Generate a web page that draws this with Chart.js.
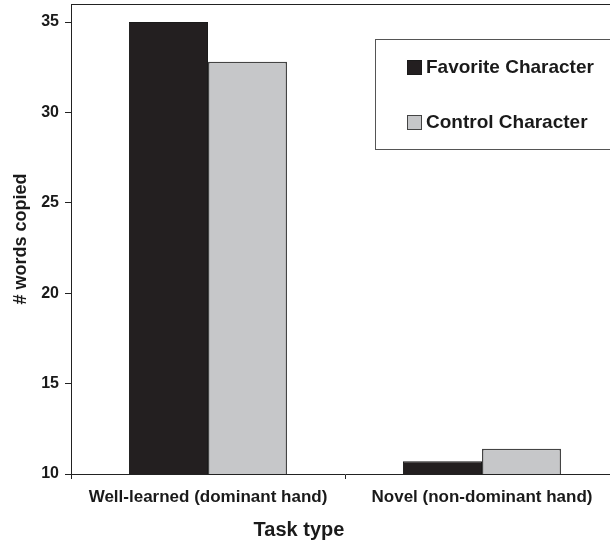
<!DOCTYPE html>
<html>
<head>
<meta charset="utf-8">
<script src="https://cdn.jsdelivr.net/npm/chart.js@4.4.1/dist/chart.umd.min.js"></script>
<style>
html,body{margin:0;padding:0;background:#fff;overflow:hidden;width:610px;height:545px;}
#wrap{width:630px;height:545px;position:relative;}
</style>
</head>
<body>
<div id="wrap"><canvas id="c" width="630" height="545"></canvas></div>
<script>
const categories = ["Well-learned (dominant hand)", "Novel (non-dominant hand)"];
const favoriteValues = [35.0, 10.7];
const controlValues = [32.8, 11.4];
const seriesNames = ["Favorite Character", "Control Character"];
const yTicks = [10, 15, 20, 25, 30, 35];
const yMin = 10, yMax = 36;
const xTitle = "Task type";
const yTitle = "# words copied";

const FONT = "'Liberation Sans', Arial, Helvetica, sans-serif";
const DARK = '#231f20';
const GREY = '#c6c7c9';

const framePlugin = {
  id: 'frame',
  afterDraw(chart) {
    const {ctx, chartArea} = chart;
    ctx.save();
    ctx.strokeStyle = '#222';
    ctx.lineWidth = 1;
    ctx.beginPath();
    ctx.moveTo(chartArea.left, chartArea.top + 0.5);
    ctx.lineTo(chartArea.right, chartArea.top + 0.5);
    ctx.stroke();
    // x title (centred on the figure, as in the original)
    ctx.font = 'bold 20px ' + FONT;
    ctx.fillStyle = '#1a1a1a';
    ctx.textAlign = 'center';
    ctx.textBaseline = 'middle';
    ctx.fillText(xTitle, 299, 530);
    // legend box
    const bx = 375.5, by = 39.5, bw = 260, bh = 110;
    ctx.strokeStyle = '#555';
    ctx.fillStyle = '#fff';
    ctx.fillRect(bx, by, bw, bh);
    ctx.strokeRect(bx, by, bw, bh);
    const rows = [67, 122];
    ctx.font = 'bold 19px ' + FONT;
    ctx.textBaseline = 'middle';
    ctx.textAlign = 'left';
    chart.data.datasets.forEach((ds, i) => {
      const y = rows[i];
      ctx.fillStyle = ds.backgroundColor;
      ctx.fillRect(407, y - 7, 15, 15);
      ctx.strokeStyle = ds.borderColor;
      ctx.strokeRect(407.5, y - 6.5, 14, 14);
      ctx.fillStyle = '#1a1a1a';
      ctx.fillText(ds.label, 426, y + 1);
    });
    ctx.restore();
  }
};

function zeroPad(s) { s.paddingTop = 0; s.paddingBottom = 0; s.paddingLeft = 0; s.paddingRight = 0; }

new Chart(document.getElementById('c'), {
  type: 'bar',
  data: {
    labels: categories,
    datasets: [
      { label: seriesNames[0], data: favoriteValues, backgroundColor: DARK, borderColor: '#1a1a1a', borderWidth: 1,
        categoryPercentage: 0.577, barPercentage: 1.0 },
      { label: seriesNames[1], data: controlValues, backgroundColor: GREY, borderColor: '#444', borderWidth: 1.5,
        categoryPercentage: 0.577, barPercentage: 1.0 }
    ]
  },
  options: {
    responsive: false,
    animation: false,
    devicePixelRatio: 1,
    layout: { autoPadding: false, padding: { top: 4, right: 11, left: 0, bottom: 0 } },
    plugins: { legend: { display: false }, tooltip: { enabled: false } },
    scales: {
      x: {
        afterFit(s) { s.height = 71; zeroPad(s); },
        grid: { drawOnChartArea: false, drawTicks: true, tickLength: 5, color: '#222', offset: true },
        border: { display: true, color: '#222', width: 1 },
        ticks: { color: '#1a1a1a', font: { family: FONT, size: 17, weight: 'bold' }, padding: 8, maxRotation: 0, autoSkip: false },
        title: { display: false }
      },
      y: {
        min: yMin, max: yMax,
        afterFit(s) { s.width = 71; zeroPad(s); },
        afterBuildTicks(s) { s.ticks = yTicks.map(v => ({ value: v })); },
        grid: { drawOnChartArea: false, drawTicks: true, tickLength: 6, color: '#222' },
        border: { display: true, color: '#222', width: 1 },
        ticks: { color: '#1a1a1a', font: { family: FONT, size: 16, weight: 'bold' }, padding: 6 },
        title: { display: true, text: yTitle, color: '#1a1a1a', font: { family: FONT, size: 18, weight: 'bold' }, padding: { top: 10, bottom: 0 } }
      }
    }
  },
  plugins: [framePlugin]
});
</script>
</body>
</html>
